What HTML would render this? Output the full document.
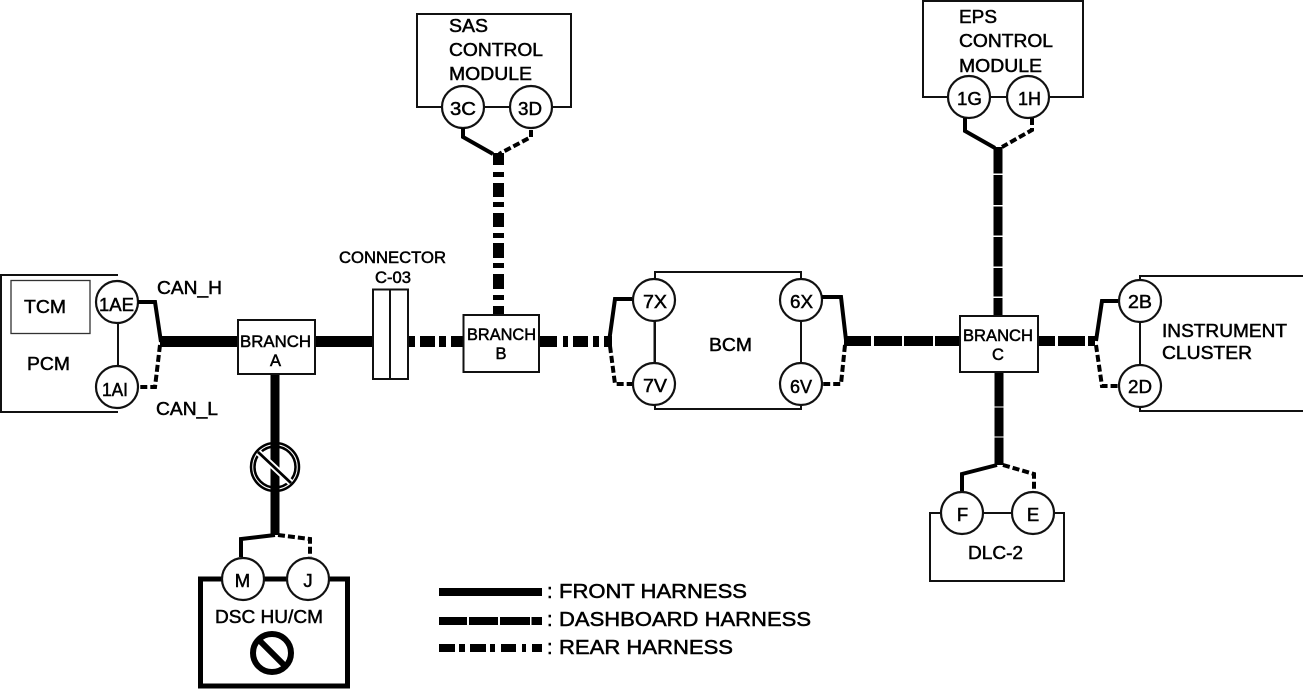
<!DOCTYPE html>
<html>
<head>
<meta charset="utf-8">
<style>
html,body{margin:0;padding:0;background:#fff;width:1303px;height:690px;overflow:hidden}
svg{display:block}
text{font-family:"Liberation Sans",Arial,sans-serif;fill:#000;stroke:#000;stroke-width:.5}
.box{fill:#fff;stroke:#111;stroke-width:2}
.c{fill:#fff;stroke:#111;stroke-width:2.200}
.w{fill:none;stroke:#000;stroke-width:4}
.d{fill:none;stroke:#000;stroke-width:4;stroke-dasharray:7 3}
.l{stroke:#111;stroke-width:2;fill:none}
.h{font-size:18.500px}
.b{font-size:16.500px}
.m{text-anchor:middle}
</style>
</head>
<body>
<svg width="1303" height="690" viewBox="0 0 1303 690" xmlns="http://www.w3.org/2000/svg">
<rect width="1303" height="690" fill="#fff"/>

<!-- harness lines: front -->
<g fill="#000">
<rect x="160" y="336" width="78" height="11"/>
<rect x="315" y="336" width="58" height="11"/>
<rect x="270.500" y="374" width="9" height="161"/>

<!-- rear horizontal -->
<rect x="408" y="336" width="7" height="11"/>
<rect x="420" y="336" width="15" height="11"/>
<rect x="439" y="336" width="7" height="11"/>
<rect x="451" y="336" width="12" height="11"/>
<rect x="539" y="336" width="18" height="11"/>
<rect x="563" y="336" width="5" height="11"/>
<rect x="573" y="336" width="15" height="11"/>
<rect x="593" y="336" width="6" height="11"/>
<rect x="604" y="336" width="8" height="11"/>

<!-- rear vertical -->
<rect x="493" y="153" width="11" height="12"/>
<rect x="493" y="172" width="11" height="5"/>
<rect x="493" y="183" width="11" height="14"/>
<rect x="493" y="202" width="11" height="5"/>
<rect x="493" y="213" width="11" height="14"/>
<rect x="493" y="233" width="11" height="5"/>
<rect x="493" y="243" width="11" height="15"/>
<rect x="493" y="263" width="11" height="5"/>
<rect x="493" y="274" width="11" height="15"/>
<rect x="493" y="295" width="11" height="5"/>
<rect x="493" y="306" width="11" height="9"/>

<!-- dashboard horizontal -->
<rect x="844" y="336" width="27" height="10"/>
<rect x="874" y="336" width="28" height="10"/>
<rect x="904" y="336" width="29" height="10"/>
<rect x="935" y="336" width="25" height="10"/>
<rect x="1038" y="336" width="17" height="10"/>
<rect x="1058" y="336" width="27" height="10"/>
<rect x="1088" y="336" width="7" height="10"/>

<!-- dashboard vertical top -->
<rect x="993.500" y="147" width="9" height="26.500"/>
<rect x="993.500" y="175" width="9" height="30"/>
<rect x="993.500" y="206.500" width="9" height="29"/>
<rect x="993.500" y="237" width="9" height="29.500"/>
<rect x="993.500" y="268" width="9" height="28.500"/>
<rect x="993.500" y="298" width="9" height="18.500"/>

<!-- dashboard vertical bottom -->
<rect x="994.500" y="372" width="9" height="34.500"/>
<rect x="994.500" y="407.500" width="9" height="29"/>
<rect x="994.500" y="437.500" width="9" height="27.500"/>

<!-- legend -->
<rect x="439" y="588" width="103" height="8"/>
<rect x="439" y="617" width="28" height="8"/>
<rect x="469" y="617" width="29" height="8"/>
<rect x="500" y="617" width="30" height="8"/>
<rect x="531.500" y="617" width="10.500" height="8"/>
<rect x="439" y="644" width="16" height="8"/>
<rect x="459" y="644" width="6" height="8"/>
<rect x="470" y="644" width="16" height="8"/>
<rect x="490" y="644" width="5" height="8"/>
<rect x="501" y="644" width="15" height="8"/>
<rect x="522" y="644" width="4" height="8"/>
<rect x="532" y="644" width="10" height="8"/>
</g>

<!-- PCM -->
<path class="box" d="M118 275H1V412H118"/>
<rect x="11" y="280.500" width="79" height="53" fill="#fff" stroke="#333" stroke-width="1.300"/>
<line class="l" x1="118" y1="302" x2="118" y2="387"/>
<circle class="c" cx="117" cy="302" r="21"/>
<circle class="c" cx="117" cy="387" r="21"/>
<polyline class="w" points="138,302 155,302 161,342"/>
<polyline class="d" points="160,345 155,387 138,387"/>

<!-- Branch A -->
<rect class="box" x="238" y="320" width="77" height="54"/>

<!-- Connector -->
<rect class="box" x="373" y="289.500" width="35" height="89.500"/>
<line class="l" x1="390" y1="289" x2="390" y2="379"/>

<!-- Branch B -->
<rect class="box" x="463.500" y="315" width="75.500" height="57"/>

<!-- SAS -->
<path class="box" d="M417 107V14H571V107Z"/>
<circle class="c" cx="463" cy="107" r="21"/>
<circle class="c" cx="531" cy="107" r="21"/>
<polyline class="w" points="463,128 463,137 493,154"/>
<polyline class="d" points="531,130 531,137 499,154"/>

<!-- BCM -->
<rect class="box" x="655" y="272" width="146" height="137"/>
<line class="l" x1="654.500" y1="300" x2="654.500" y2="384"/>
<circle class="c" cx="654" cy="300" r="21"/>
<circle class="c" cx="654" cy="384" r="21"/>
<circle class="c" cx="801" cy="300" r="21"/>
<circle class="c" cx="801" cy="384" r="21"/>
<polyline class="w" points="632,299 615,299 609,342"/>
<polyline class="d" points="610,346 615,384 632,384"/>
<polyline class="w" points="822,297 841,297 846,340"/>
<polyline class="d" points="845,345 841,384 822,384"/>

<!-- Branch C -->
<rect class="box" x="960" y="316" width="78" height="56"/>

<!-- Instrument -->
<path class="box" d="M1140 276H1304V411H1140Z"/>
<circle class="c" cx="1140" cy="301" r="21"/>
<circle class="c" cx="1140" cy="386" r="21"/>
<line class="l" x1="1140" y1="322" x2="1140" y2="365"/>
<polyline class="w" points="1118,301 1102,301 1096,341"/>
<polyline class="d" points="1096,345 1102,386 1118,386"/>

<!-- EPS -->
<path class="box" d="M923 97V1H1083V97Z"/>
<circle class="c" cx="969" cy="97" r="21"/>
<circle class="c" cx="1028" cy="97" r="21"/>
<polyline class="w" points="965,118 965,131 995,148"/>
<polyline class="d" points="1032,118 1032,130 1002,147"/>

<!-- DLC -->
<path class="box" d="M930 513H1064V581H930Z"/>
<circle class="c" cx="962" cy="513" r="21"/>
<circle class="c" cx="1033" cy="513" r="21"/>
<polyline class="w" points="962,491 962,474 997,465"/>
<polyline class="d" points="1003,465 1034,474 1034,491"/>

<!-- DSC -->
<rect x="200.500" y="579" width="147" height="107" fill="#fff" stroke="#000" stroke-width="5"/>
<circle class="c" cx="243" cy="579" r="21"/>
<circle class="c" cx="308" cy="579" r="21"/>
<polyline class="w" points="241,557 241,539 275,535"/>
<polyline class="d" points="278,535 310,539 310,557"/>

<!-- prohibition on front wire -->
<circle cx="275" cy="467" r="24" fill="none" stroke="#000" stroke-width="2.500"/>
<circle cx="275" cy="467" r="20.500" fill="none" stroke="#000" stroke-width="2.500"/>
<line x1="258" y1="452" x2="291" y2="483" stroke="#fff" stroke-width="6.500"/>
<line x1="258" y1="452" x2="291" y2="483" stroke="#000" stroke-width="2.800"/>

<!-- prohibition in DSC -->
<circle cx="272" cy="653" r="19" fill="#fff" stroke="#000" stroke-width="6"/>
<line x1="259" y1="640" x2="285" y2="666" stroke="#000" stroke-width="6"/>

<!-- Text -->
<text class="h" x="24" y="313" textLength="42" lengthAdjust="spacingAndGlyphs">TCM</text>
<text class="h" x="27" y="370" textLength="43" lengthAdjust="spacingAndGlyphs">PCM</text>
<text class="h" x="99" y="311" textLength="35" lengthAdjust="spacingAndGlyphs">1AE</text>
<text class="h" x="102" y="396" textLength="26" lengthAdjust="spacingAndGlyphs">1AI</text>
<text class="h" x="157" y="294" textLength="65" lengthAdjust="spacingAndGlyphs">CAN_H</text>
<text class="h" x="156" y="415" textLength="62" lengthAdjust="spacingAndGlyphs">CAN_L</text>

<text class="b" x="240" y="347" textLength="71" lengthAdjust="spacingAndGlyphs">BRANCH</text>
<text class="b m" x="275.500" y="366">A</text>
<text class="b" x="339" y="263" textLength="107" lengthAdjust="spacingAndGlyphs">CONNECTOR</text>
<text class="b" x="375" y="283" textLength="36" lengthAdjust="spacingAndGlyphs">C-03</text>
<text class="b" x="467" y="340" textLength="69" lengthAdjust="spacingAndGlyphs">BRANCH</text>
<text class="b m" x="501" y="359">B</text>
<text class="b" x="963" y="341" textLength="70" lengthAdjust="spacingAndGlyphs">BRANCH</text>
<text class="b m" x="998" y="360">C</text>

<text class="h" x="449" y="32" textLength="39" lengthAdjust="spacingAndGlyphs">SAS</text>
<text class="h" x="449" y="56" textLength="94" lengthAdjust="spacingAndGlyphs">CONTROL</text>
<text class="h" x="449" y="80" textLength="83" lengthAdjust="spacingAndGlyphs">MODULE</text>
<text class="h" x="450" y="115" textLength="26" lengthAdjust="spacingAndGlyphs">3C</text>
<text class="h" x="518" y="115" textLength="24" lengthAdjust="spacingAndGlyphs">3D</text>

<text class="h" x="643" y="308" textLength="24" lengthAdjust="spacingAndGlyphs">7X</text>
<text class="h" x="643" y="392" textLength="24" lengthAdjust="spacingAndGlyphs">7V</text>
<text class="h" x="790" y="308" textLength="23" lengthAdjust="spacingAndGlyphs">6X</text>
<text class="h" x="790" y="393" textLength="22" lengthAdjust="spacingAndGlyphs">6V</text>
<text class="h" x="709" y="351" textLength="43" lengthAdjust="spacingAndGlyphs">BCM</text>

<text class="h" x="1128" y="308" textLength="24" lengthAdjust="spacingAndGlyphs">2B</text>
<text class="h" x="1128" y="393" textLength="24" lengthAdjust="spacingAndGlyphs">2D</text>
<text class="h" x="1162" y="337" textLength="125" lengthAdjust="spacingAndGlyphs">INSTRUMENT</text>
<text class="h" x="1162" y="359" textLength="90" lengthAdjust="spacingAndGlyphs">CLUSTER</text>

<text class="h" x="959" y="23" textLength="38" lengthAdjust="spacingAndGlyphs">EPS</text>
<text class="h" x="959" y="47" textLength="94" lengthAdjust="spacingAndGlyphs">CONTROL</text>
<text class="h" x="959" y="72" textLength="83" lengthAdjust="spacingAndGlyphs">MODULE</text>
<text class="h" x="957" y="105" textLength="25" lengthAdjust="spacingAndGlyphs">1G</text>
<text class="h" x="1018" y="105" textLength="23" lengthAdjust="spacingAndGlyphs">1H</text>

<text class="h m" x="962.500" y="521">F</text>
<text class="h m" x="1033" y="521">E</text>
<text class="h" x="968" y="559" textLength="55" lengthAdjust="spacingAndGlyphs">DLC-2</text>

<text class="h m" x="242.500" y="587">M</text>
<text class="h m" x="308" y="587">J</text>
<text class="h" x="215" y="623" textLength="108" lengthAdjust="spacingAndGlyphs">DSC HU/CM</text>

<text font-size="20" x="547" y="598">:</text>
<text font-size="20" x="559" y="598" textLength="188" lengthAdjust="spacingAndGlyphs">FRONT HARNESS</text>
<text font-size="20" x="547" y="626">:</text>
<text font-size="20" x="559" y="626" textLength="252" lengthAdjust="spacingAndGlyphs">DASHBOARD HARNESS</text>
<text font-size="20" x="547" y="654">:</text>
<text font-size="20" x="559" y="654" textLength="174" lengthAdjust="spacingAndGlyphs">REAR HARNESS</text>
</svg>
</body>
</html>
